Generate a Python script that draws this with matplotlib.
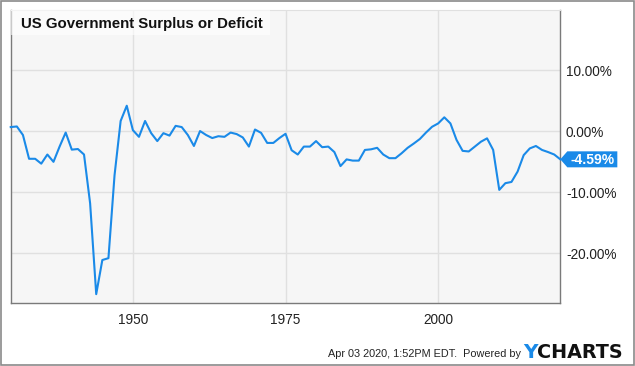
import numpy as np
import pandas as pd
import matplotlib
matplotlib.use("Agg")
from matplotlib import pyplot as plt
import matplotlib.dates as mdates
import matplotlib.transforms as mtransforms
from matplotlib.patches import Polygon, Rectangle

plt.rcParams['font.family'] = ['Liberation Sans', 'DejaVu Sans']

# fiscal years and surplus(+)/deficit(-) as % of GDP
years = list(range(1929, 2020))
values = [0.7, 0.8, -0.6, -4.5, -4.5, -5.3, -3.8, -5.0, -2.5, -0.2,
          -3.0, -2.9, -3.8, -11.8, -26.7, -21.1, -20.8, -7.2, 1.7, 4.2,
          0.2, -0.9, 1.7, -0.3, -1.6, -0.3, -0.7, 0.9, 0.7, -0.6,
          -2.4, 0.05, -0.6, -1.1, -0.8, -0.9, -0.2, -0.45, -1.0, -2.5,
          0.3, -0.25, -1.9, -1.9, -1.1, -0.4, -3.1, -3.8, -2.5, -2.5,
          -1.6, -2.6, -2.5, -3.4, -5.7, -4.6, -4.8, -4.8, -3.05, -2.95,
          -2.7, -3.8, -4.4, -4.4, -3.6, -2.7, -2.0, -1.25, -0.2, 0.75,
          1.3, 2.3, 1.3, -1.4, -3.2, -3.3, -2.5, -1.7, -1.15, -3.05,
          -9.6, -8.5, -8.3, -6.6, -3.9, -2.8, -2.4, -3.05, -3.4, -3.8,
          -4.59]
yticks = [-20, -10, 0, 10]
xtick_years = [1950, 1975, 2000]
title = "US Government Surplus or Deficit"

dates = pd.to_datetime([f"{y}-12-31" for y in years])

fig = plt.figure(figsize=(6.35, 3.66), dpi=100)
fig.patch.set_facecolor("white")
ax = fig.add_axes([0.0169, 0.1713, 0.8655, 0.8014])
ax.set_facecolor("#f6f6f6")

ax.plot(dates, values, color="#1a8ae8", lw=1.5, zorder=3, clip_on=False)

ax.set_xlim(dates[0], dates[-1])
ax.set_ylim(-28.2, 19.9)
ax.set_yticks(yticks)
ax.set_yticklabels([f"{v:.2f}%" for v in yticks])
ax.yaxis.tick_right()
ax.set_xticks(pd.to_datetime([f"{y}-01-01" for y in xtick_years]))
ax.set_xticklabels([str(y) for y in xtick_years])
ax.tick_params(axis="both", length=0, labelsize=9.8, colors="#222222")
ax.tick_params(axis="y", pad=4)
ax.tick_params(axis="x", pad=7)
ax.grid(True, color="#e0e0e0", lw=1)
ax.set_axisbelow(True)
for side in ["left", "bottom", "right"]:
    ax.spines[side].set_color("#7a7a7a")
    ax.spines[side].set_linewidth(1)
ax.spines["top"].set_color("#e0e0e0")

# title box, inside the plot's top-left corner
corner = fig.dpi_scale_trans + mtransforms.ScaledTranslation(0, 1, ax.transAxes)
ax.add_patch(Rectangle((0, 0), 2.59, -0.25, transform=corner,
                       fc="white", ec="none", alpha=0.6, zorder=4))
ax.text(0.10, -0.14, title, transform=corner,
        ha="left", va="center", fontsize=10.8, fontweight="bold",
        color="#111111", zorder=5)

# last value tag
trans = fig.dpi_scale_trans + mtransforms.ScaledTranslation(
    mdates.date2num(dates[-1]), values[-1], ax.transData)
tag = Polygon([(0, 0), (0.07, 0.08), (0.57, 0.08), (0.57, -0.08), (0.07, -0.08)],
              closed=True, transform=trans, fc="#1a8ae8", ec="none",
              clip_on=False, zorder=5)
ax.add_artist(tag)
ax.text(0.32, -0.003, f"{values[-1]:.2f}%", transform=trans, ha="center",
        va="center", color="white", fontsize=10, fontweight="bold",
        zorder=6, clip_on=False)

# footer
fig.text(328 / 635, 1 - 357 / 366, "Apr 03 2020, 1:52PM EDT.  Powered by",
         fontsize=7.8, color="#222222", ha="left", va="baseline")
fig.text(523 / 635, 1 - 357.5 / 366, "Y", fontsize=14.5, fontweight="bold",
         color="#1a8ae8", ha="left", va="baseline", family="DejaVu Sans")
fig.text(537 / 635, 1 - 357.5 / 366, "CHARTS", fontsize=13.8, fontweight="bold",
         color="#111111", ha="left", va="baseline", family="DejaVu Sans")

# outer border
fig.patches.append(Rectangle((0.0008, 0.0014), 0.9984, 0.9972,
                             transform=fig.transFigure, fill=False,
                             ec="#8a8a8a", lw=1.2))

fig.savefig("out.png", dpi=100)
